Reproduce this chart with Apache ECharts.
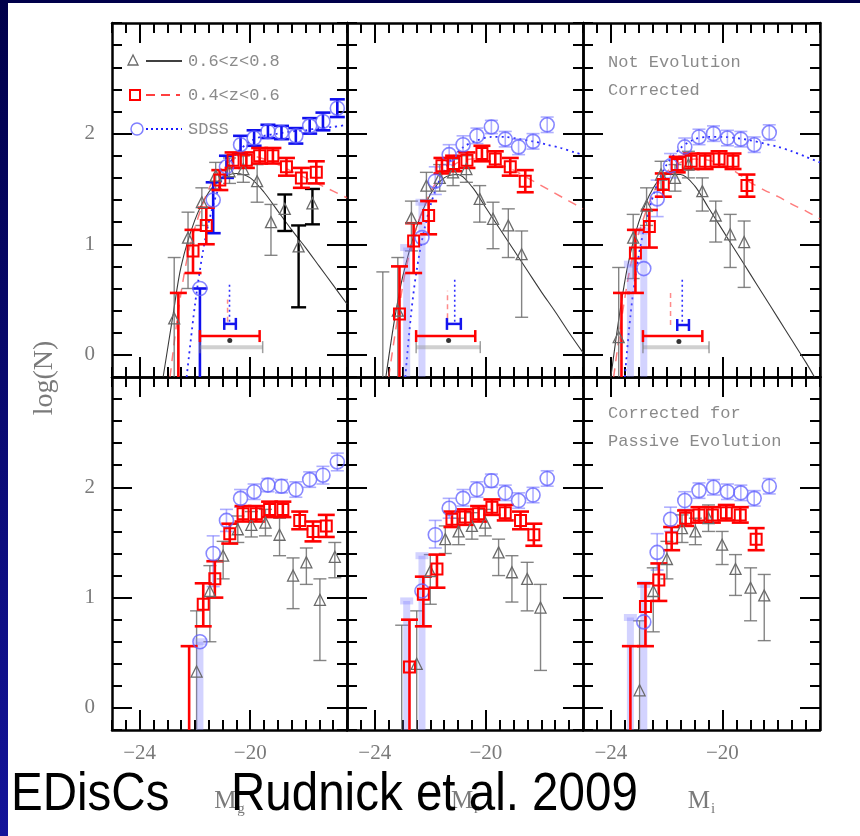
<!DOCTYPE html>
<html><head><meta charset="utf-8">
<script src="https://cdn.jsdelivr.net/npm/echarts@6/dist/echarts.min.js"></script>
<style>html,body{margin:0;padding:0;background:#fff}#c{width:860px;height:836px}</style>
</head><body><div id="c"></div>
<script>
// ---------------- DATA ----------------
// axis ranges / ticks
const XMIN = -25, XMAX = -16.5, YMIN = -0.2, YMAX = 3;
const X_MAJOR = [-24, -20];
const Y_MAJOR = [0, 1, 2];

// Column 1 (M_g)
const BLK1_M_TOP = [-22.75, -22.25, -21.75, -21.25, -20.75, -20.25, -19.75, -19.25, -18.75, -18.25, -17.75];
const BLK1_M_BOT = [-21.94, -21.46, -20.98, -20.45, -19.96, -19.45, -18.94, -18.45, -17.97, -17.48, -16.94];
const BLK1_Y  = [0.33, 1.06, 1.38, 1.62, 1.66, 1.68, 1.57, 1.20, 1.32, 0.98, 1.37];
const BLK1_HI = [0.88, 1.29, 1.51, 1.74, 1.78, 1.80, 1.72, 1.36, 1.45, 1.17, 1.50];
const BLK1_LO = [null, 0.60, 1.17, 1.50, 1.55, 1.56, 1.38, 0.90, 1.12, 0.43, 1.18];
const RED1_M_TOP = [-22.60, -22.07, -21.59, -21.10, -20.62, -20.14, -19.66, -19.18, -18.69, -18.15, -17.61];
const RED1_M_BOT = [-22.21, -21.70, -21.28, -20.74, -20.26, -19.78, -19.30, -18.82, -18.21, -17.73, -17.25];
const RED1_Y  = [null, 0.94, 1.17, 1.58, 1.76, 1.76, 1.80, 1.80, 1.70, 1.60, 1.65];
const RED1_HI = [0.56, 1.13, 1.33, 1.67, 1.83, 1.83, 1.87, 1.87, 1.78, 1.69, 1.75];
const RED1_LO = [null, 0.74, 1.00, 1.49, 1.69, 1.69, 1.73, 1.73, 1.62, 1.51, 1.55];
const BLU1_M  = [-21.82, -21.34, -20.86, -20.35, -19.86, -19.36, -18.87, -18.35, -17.85, -17.37, -16.85];
const BLU1_Y  = [0.60, 1.40, 1.70, 1.90, 1.96, 2.02, 2.01, 1.98, 2.07, 2.11, 2.23];
const BLU1_HI = [0.60, 1.56, 1.80, 1.98, 2.03, 2.08, 2.07, 2.05, 2.14, 2.19, 2.31];
const BLU1_LO = [null, 1.10, 1.60, 1.82, 1.89, 1.96, 1.95, 1.91, 2.00, 2.03, 2.15];

// Column 2 (M_r)
const BLK2_M_TOP = [-23.71, -23.17, -22.68, -22.14, -21.66, -21.18, -20.70, -20.22, -19.74, -19.19, -18.71];
const BLK2_M_BOT = [-23.03, -22.49, -22.00, -21.46, -20.98, -20.50, -20.02, -19.54, -19.06, -18.51, -18.03];
const BLK2_Y  = [null, 0.40, 1.24, 1.53, 1.60, 1.65, 1.68, 1.41, 1.23, 1.17, 0.91];
const BLK2_HI = [0.75, 0.88, 1.39, 1.65, 1.72, 1.77, 1.80, 1.53, 1.38, 1.32, 1.12];
const BLK2_LO = [null, null, 0.94, 1.40, 1.48, 1.53, 1.56, 1.20, 0.96, 0.88, 0.34];
const RED2_M_TOP = [-23.11, -22.60, -22.06, -21.58, -21.16, -20.68, -20.14, -19.66, -19.12, -18.58];
const RED2_M_BOT = [-22.75, -22.25, -21.76, -21.22, -20.74, -20.26, -19.78, -19.30, -18.75, -18.27];
const RED2_Y  = [0.37, 1.03, 1.26, 1.71, 1.73, 1.76, 1.82, 1.77, 1.70, 1.57];
const RED2_HI = [0.80, 1.19, 1.39, 1.78, 1.80, 1.83, 1.89, 1.84, 1.78, 1.67];
const RED2_LO = [null, 0.74, 1.09, 1.64, 1.66, 1.69, 1.75, 1.70, 1.62, 1.47];
const BLU2_M  = [-22.85, -22.30, -21.82, -21.32, -20.82, -20.32, -19.80, -19.30, -18.82, -18.30, -17.79];
const BLU2_Y  = [null, 1.06, 1.57, 1.81, 1.90, 1.98, 2.06, 1.95, 1.88, 1.93, 2.08];
const BLU2_HI = [0.97, 1.38, 1.70, 1.90, 1.98, 2.05, 2.12, 2.02, 1.95, 2.00, 2.15];
const BLU2_LO = [null, null, 1.45, 1.72, 1.83, 1.91, 2.00, 1.88, 1.81, 1.86, 2.01];

// Column 3 (M_i)
const BLK3_M_TOP = [-23.72, -23.20, -22.72, -22.20, -21.70, -21.22, -20.72, -20.24, -19.72, -19.22];
const BLK3_M_BOT = [-22.97, -22.48, -21.99, -21.45, -20.97, -20.50, -20.01, -19.53, -18.99, -18.50];
const BLK3_Y  = [0.16, 1.06, 1.35, 1.63, 1.60, 1.72, 1.48, 1.26, 1.09, 1.02];
const BLK3_HI = [0.79, 1.27, 1.51, 1.75, 1.72, 1.84, 1.60, 1.39, 1.27, 1.21];
const BLK3_LO = [null, 0.69, 1.17, 1.50, 1.48, 1.60, 1.30, 1.02, 0.79, 0.61];
const RED3_M_TOP = [-23.62, -23.12, -22.62, -22.12, -21.62, -21.12, -20.62, -20.12, -19.62, -19.12];
const RED3_M_BOT = [-23.30, -22.76, -22.28, -21.82, -21.32, -20.84, -20.36, -19.86, -19.36, -18.79];
const RED3_Y  = [null, 0.92, 1.16, 1.54, 1.72, 1.75, 1.75, 1.77, 1.75, 1.53];
const RED3_HI = [0.56, 1.13, 1.31, 1.64, 1.79, 1.82, 1.82, 1.84, 1.82, 1.63];
const RED3_LO = [null, 0.56, 0.97, 1.43, 1.65, 1.68, 1.68, 1.70, 1.68, 1.43];
const BLU3_M  = [-23.30, -22.82, -22.34, -21.86, -21.35, -20.84, -20.32, -19.82, -19.34, -18.86, -18.32];
const BLU3_Y  = [null, 0.78, 1.41, 1.71, 1.88, 1.97, 2.00, 1.96, 1.95, 1.90, 2.01];
const BLU3_HI = [0.82, 1.12, 1.58, 1.82, 1.96, 2.04, 2.07, 2.03, 2.02, 1.97, 2.08];
const BLU3_LO = [null, null, 1.25, 1.60, 1.80, 1.90, 1.93, 1.89, 1.88, 1.83, 1.94];

// Fitted curves (top row only)
const FIT1_BLK_M = [-23.15, -22.8, -22.5, -22.0, -21.5, -21.0, -20.5, -20.0, -19.5, -19.0, -18.5, -18.0, -17.5, -17.0, -16.5];
const FIT1_BLK_Y = [-0.2, 0.35, 0.8, 1.22, 1.47, 1.6, 1.64, 1.6, 1.47, 1.3, 1.13, 0.97, 0.8, 0.63, 0.46];
const FIT1_RED_M = [-22.9, -22.6, -22.3, -22.0, -21.5, -21.0, -20.5, -20.0, -19.5, -19.0, -18.5, -18.0, -17.5, -17.0, -16.5];
const FIT1_RED_Y = [-0.2, 0.4, 0.85, 1.15, 1.5, 1.7, 1.78, 1.8, 1.77, 1.72, 1.66, 1.6, 1.54, 1.48, 1.42];
const FIT1_BLU_M = [-22.3, -22.0, -21.7, -21.4, -21.0, -20.5, -20.0, -19.5, -19.0, -18.5, -18.0, -17.5, -17.0, -16.5];
const FIT1_BLU_Y = [-0.2, 0.45, 0.95, 1.3, 1.6, 1.82, 1.93, 1.98, 2.0, 2.02, 2.03, 2.05, 2.06, 2.08];
const FIT2_BLK_M = [-23.6, -23.3, -23.0, -22.5, -22.0, -21.5, -21.0, -20.5, -20.0, -19.5, -19.0, -18.5, -18.0, -17.5, -17.0, -16.5];
const FIT2_BLK_Y = [-0.2, 0.3, 0.7, 1.15, 1.45, 1.6, 1.63, 1.52, 1.33, 1.14, 0.95, 0.76, 0.57, 0.39, 0.2, 0.02];
const FIT2_RED_M = [-23.5, -23.2, -22.9, -22.5, -22.0, -21.5, -21.0, -20.5, -20.0, -19.5, -19.0, -18.5, -18.0, -17.5, -17.0, -16.5];
const FIT2_RED_Y = [-0.2, 0.3, 0.75, 1.15, 1.47, 1.65, 1.74, 1.77, 1.76, 1.72, 1.67, 1.6, 1.53, 1.46, 1.39, 1.32];
const FIT2_BLU_M = [-22.9, -22.7, -22.5, -22.2, -21.8, -21.3, -20.8, -20.3, -19.8, -19.3, -18.8, -18.3, -17.8, -17.3, -16.8, -16.5];
const FIT2_BLU_Y = [-0.2, 0.35, 0.75, 1.15, 1.5, 1.75, 1.88, 1.94, 1.97, 1.97, 1.95, 1.93, 1.9, 1.87, 1.83, 1.81];
const FIT3_BLK_M = [-24.0, -23.7, -23.4, -23.0, -22.5, -22.0, -21.5, -21.0, -20.5, -20.0, -19.5, -19.0, -18.5, -18.0, -17.5, -17.0, -16.7];
const FIT3_BLK_Y = [-0.2, 0.35, 0.8, 1.2, 1.5, 1.63, 1.63, 1.53, 1.33, 1.13, 0.93, 0.73, 0.53, 0.33, 0.13, -0.07, -0.2];
const FIT3_RED_M = [-23.9, -23.6, -23.3, -23.0, -22.5, -22.0, -21.5, -21.0, -20.5, -20.0, -19.5, -19.0, -18.5, -18.0, -17.5, -17.0, -16.5];
const FIT3_RED_Y = [-0.2, 0.35, 0.8, 1.1, 1.45, 1.65, 1.74, 1.77, 1.76, 1.72, 1.65, 1.56, 1.49, 1.43, 1.36, 1.3, 1.23];
const FIT3_BLU_M = [-23.5, -23.3, -23.1, -22.8, -22.4, -22.0, -21.5, -21.0, -20.5, -20.0, -19.5, -19.0, -18.5, -18.0, -17.5, -17.0, -16.5];
const FIT3_BLU_Y = [-0.2, 0.35, 0.75, 1.15, 1.5, 1.72, 1.87, 1.95, 1.97, 1.97, 1.96, 1.94, 1.91, 1.88, 1.84, 1.79, 1.74];

// Systematic-offset indicators in the top row: [xLeft, y, xRight] / [x, y1, y2] / [x, y]
const SYS_RED_BAR  = [[-21.82, 0.17, -19.66], [-22.51, 0.17, -20.38], [-22.85, 0.17, -20.72]];
const SYS_GRAY_BAR = [[-21.82, 0.07, -19.55], [-22.51, 0.07, -20.20], [-22.85, 0.07, -20.48]];
const SYS_BLUE_BAR = [[-20.94, 0.28, -20.52], [-21.40, 0.28, -20.90], [-21.62, 0.27, -21.20]];
const SYS_BLUE_VERT = [[-20.75, 0.30, 0.66], [-21.12, 0.30, 0.68], [-21.44, 0.30, 0.68]];
const SYS_RED_VERT  = [[-20.82, 0.30, 0.50], [-21.38, 0.33, 0.58], [-21.86, 0.27, 0.58]];
const SYS_DOT = [[-20.74, 0.13], [-21.34, 0.13], [-21.56, 0.12]];

const AXIS_NAMES = ['g', 'r', 'i'];
const LEGEND_LABELS = ['0.6<z<0.8', '0.4<z<0.6', 'SDSS'];

// ---------------- LAYOUT / STYLE ----------------
const GRID_LEFT = [112, 347, 583], GRID_W = [235, 236, 237];
const GRID_TOP = [23, 377], GRID_H = [354, 353];
const SERIF = '"Liberation Serif", "DejaVu Serif", serif';
const MONO = '"Liberation Mono", "DejaVu Sans Mono", monospace';
const LABEL_COLOR = '#7a7a7a';

const COLS = [
  {blkTop: BLK1_M_TOP, blkBot: BLK1_M_BOT, blkY: BLK1_Y, blkHi: BLK1_HI, blkLo: BLK1_LO,
   redTop: RED1_M_TOP, redBot: RED1_M_BOT, redY: RED1_Y, redHi: RED1_HI, redLo: RED1_LO,
   bluM: BLU1_M, bluY: BLU1_Y, bluHi: BLU1_HI, bluLo: BLU1_LO,
   fit: [[FIT1_BLK_M, FIT1_BLK_Y], [FIT1_RED_M, FIT1_RED_Y], [FIT1_BLU_M, FIT1_BLU_Y]]},
  {blkTop: BLK2_M_TOP, blkBot: BLK2_M_BOT, blkY: BLK2_Y, blkHi: BLK2_HI, blkLo: BLK2_LO,
   redTop: RED2_M_TOP, redBot: RED2_M_BOT, redY: RED2_Y, redHi: RED2_HI, redLo: RED2_LO,
   bluM: BLU2_M, bluY: BLU2_Y, bluHi: BLU2_HI, bluLo: BLU2_LO,
   fit: [[FIT2_BLK_M, FIT2_BLK_Y], [FIT2_RED_M, FIT2_RED_Y], [FIT2_BLU_M, FIT2_BLU_Y]]},
  {blkTop: BLK3_M_TOP, blkBot: BLK3_M_BOT, blkY: BLK3_Y, blkHi: BLK3_HI, blkLo: BLK3_LO,
   redTop: RED3_M_TOP, redBot: RED3_M_BOT, redY: RED3_Y, redHi: RED3_HI, redLo: RED3_LO,
   bluM: BLU3_M, bluY: BLU3_Y, bluHi: BLU3_HI, bluLo: BLU3_LO,
   fit: [[FIT3_BLK_M, FIT3_BLK_Y], [FIT3_RED_M, FIT3_RED_Y], [FIT3_BLU_M, FIT3_BLU_Y]]}
];

const grids = [], xAxes = [], yAxes = [], series = [];
const fmt = v => (v < 0 ? '\u2212' : '') + Math.abs(v);

function lineEl(x1, y1, x2, y2, stroke, w, dash) {
  return {type: 'line', shape: {x1, y1, x2, y2}, style: {stroke, lineWidth: w, fill: null, lineDash: dash || null}};
}

function errSeries(gi, xs, lo, hi, styleFn) {
  const data = xs.map((x, i) => [x, lo[i] == null ? YMIN : lo[i], hi[i]]);
  return {
    type: 'custom', xAxisIndex: 4 * gi, yAxisIndex: 4 * gi, z: 3, silent: true, data,
    renderItem: (params, api) => {
      const i = params.dataIndex, s = styleFn(i);
      const x = api.value(0), a = api.coord([x, api.value(1)]), b = api.coord([x, api.value(2)]);
      const h = s.cap / 2;
      const ch = [lineEl(a[0], a[1], b[0], b[1], s.color, s.width),
                  lineEl(b[0] - h, b[1], b[0] + h, b[1], s.color, s.width)];
      if (lo[i] != null) ch.push(lineEl(a[0] - h, a[1], a[0] + h, a[1], s.color, s.width));
      return {type: 'group', children: ch};
    }
  };
}

function markerSeries(gi, xs, ys, symbol, size, color, bw) {
  const data = xs.map((x, i) => [x, ys[i]]).filter(d => d[1] != null);
  return {type: 'scatter', xAxisIndex: 4 * gi, yAxisIndex: 4 * gi, z: 4, silent: true,
    symbol, symbolSize: size, data,
    itemStyle: {color: 'rgba(255,255,255,0)', borderColor: color, borderWidth: bw, opacity: 1}};
}

function fitSeries(gi, xs, ys, color, width, type) {
  return {type: 'line', xAxisIndex: 4 * gi, yAxisIndex: 4 * gi, z: 2, silent: true,
    showSymbol: false, symbol: 'none', smooth: 0.3, clip: true,
    lineStyle: {color, width, type}, data: xs.map((x, i) => [x, ys[i]])};
}

function hbarSeries(gi, item, color, width, capColor, capW) {
  return {type: 'custom', xAxisIndex: 4 * gi, yAxisIndex: 4 * gi, z: 3, silent: true, data: [item],
    renderItem: (p, api) => {
      const a = api.coord([api.value(0), api.value(1)]), b = api.coord([api.value(2), api.value(1)]);
      return {type: 'group', children: [
        lineEl(a[0], a[1], b[0], b[1], color, width),
        lineEl(a[0], a[1] - 6, a[0], a[1] + 6, capColor, capW),
        lineEl(b[0], b[1] - 6, b[0], b[1] + 6, capColor, capW)]};
    }};
}

function vsegSeries(gi, item, color, width, dash) {
  return {type: 'custom', xAxisIndex: 4 * gi, yAxisIndex: 4 * gi, z: 3, silent: true, data: [item],
    renderItem: (p, api) => {
      const a = api.coord([api.value(0), api.value(1)]), b = api.coord([api.value(0), api.value(2)]);
      return lineEl(a[0], a[1], b[0], b[1], color, width, dash);
    }};
}

function addPanel(row, col) {
  const gi = row * 3 + col, C = COLS[col];
  grids.push({left: GRID_LEFT[col], top: GRID_TOP[row], width: GRID_W[col], height: GRID_H[row],
              containLabel: false, outerBoundsMode: 'none'});
  const axLine = {show: true, onZero: false, lineStyle: {color: '#000', width: 2.5}};
  const noLine = {show: false, onZero: false};
  const minorT = {show: true, inside: true, length: 10, lineStyle: {color: '#000', width: 2}};
  const majorX = {show: true, inside: true, length: 20, lineStyle: {color: '#000', width: 2}, customValues: X_MAJOR};
  const majorY = {show: true, inside: true, length: 20, lineStyle: {color: '#000', width: 2}, customValues: Y_MAJOR};
  const xb = {gridIndex: gi, type: 'value', min: XMIN, max: XMAX, interval: 0.5, splitLine: {show: false}, axisLabel: {show: false}};
  const yb = {gridIndex: gi, type: 'value', min: YMIN, max: YMAX, interval: 0.2, splitLine: {show: false}, axisLabel: {show: false}};
  const xMain = Object.assign({}, xb, {position: 'bottom', axisLine: axLine, axisTick: minorT});
  if (row === 1) {
    xMain.axisLabel = {show: true, customValues: X_MAJOR, formatter: fmt, color: LABEL_COLOR,
                       fontFamily: SERIF, fontSize: 21, margin: 13};
    xMain.name = '{m|M}{s|' + AXIS_NAMES[col] + '}';
    xMain.nameLocation = 'middle';
    xMain.nameGap = 56;
    xMain.nameTextStyle = {rich: {
      m: {fontSize: 25, fontFamily: SERIF, color: LABEL_COLOR},
      s: {fontSize: 15, fontFamily: SERIF, color: LABEL_COLOR, padding: [16, 0, 0, 1]}}};
  }
  xAxes.push(xMain,
    Object.assign({}, xb, {position: 'bottom', axisLine: noLine, axisTick: majorX}),
    Object.assign({}, xb, {position: 'top', axisLine: axLine, axisTick: minorT}),
    Object.assign({}, xb, {position: 'top', axisLine: noLine, axisTick: majorX}));
  const yMain = Object.assign({}, yb, {position: 'left', axisLine: axLine, axisTick: minorT});
  if (col === 0) {
    yMain.axisLabel = {show: true, customValues: Y_MAJOR, color: LABEL_COLOR, fontFamily: SERIF, fontSize: 21, margin: 17};
  }
  yAxes.push(yMain,
    Object.assign({}, yb, {position: 'left', axisLine: noLine, axisTick: majorY}),
    Object.assign({}, yb, {position: 'right', axisLine: axLine, axisTick: minorT}),
    Object.assign({}, yb, {position: 'right', axisLine: noLine, axisTick: majorY}));

  const blkM = row === 0 ? C.blkTop : C.blkBot;
  const redM = row === 0 ? C.redTop : C.redBot;

  if (row === 0) {
    series.push(fitSeries(gi, C.fit[0][0], C.fit[0][1], '#3a3a3a', 1.1, 'solid'));
    series.push(fitSeries(gi, C.fit[1][0], C.fit[1][1], 'rgba(255,80,80,0.75)', 1.5, [9, 7]));
    series.push(fitSeries(gi, C.fit[2][0], C.fit[2][1], '#2a2aff', 1.8, [2, 4]));
  }
  // error bars
  const darkBlack = (row === 0 && col === 0) ? [8, 9, 10] : [];
  series.push(errSeries(gi, blkM, C.blkLo, C.blkHi, i =>
    darkBlack.indexOf(i) >= 0 ? {color: '#000', width: 2.4, cap: 15} : {color: 'rgba(110,110,110,0.85)', width: 1.4, cap: 13}));
  const darkBlue = (row === 0 && col === 0);
  series.push(errSeries(gi, C.bluM, C.bluLo, C.bluHi, i =>
    darkBlue ? {color: '#1010ee', width: 2.6, cap: 15}
             : (C.bluLo[i] == null ? {color: 'rgba(130,130,255,0.35)', width: 7, cap: 13}
                                    : {color: 'rgba(110,110,255,0.55)', width: 1.6, cap: 13})));
  series.push(errSeries(gi, redM, C.redLo, C.redHi, () => ({color: '#ff0000', width: 2.6, cap: 17})));
  // markers
  series.push(markerSeries(gi, blkM, C.blkY, 'triangle', 11, '#6a6a6a', 1.3));
  series.push(markerSeries(gi, C.bluM, C.bluY, 'circle', 14, 'rgba(95,95,255,0.75)', 1.6));
  series.push(markerSeries(gi, redM, C.redY, 'rect', 11, '#ff0000', 2));

  if (row === 0) {
    series.push(hbarSeries(gi, SYS_GRAY_BAR[col], 'rgba(150,150,150,0.45)', 4, 'rgba(120,120,120,0.7)', 1.5));
    series.push(hbarSeries(gi, SYS_RED_BAR[col], '#ff0000', 2.5, '#ff0000', 2.5));
    series.push(hbarSeries(gi, SYS_BLUE_BAR[col], '#1515ee', 2.5, '#1515ee', 2.5));
    series.push(vsegSeries(gi, SYS_BLUE_VERT[col], '#3030ff', 1.6, [2, 3]));
    series.push(vsegSeries(gi, SYS_RED_VERT[col], 'rgba(255,90,90,0.7)', 1.5, [5, 4]));
    series.push({type: 'scatter', xAxisIndex: 4 * gi, yAxisIndex: 4 * gi, z: 4, silent: true,
      symbol: 'circle', symbolSize: 5, data: [SYS_DOT[col]], itemStyle: {color: '#000'}});
  }
}

for (let r = 0; r < 2; r++) for (let c = 0; c < 3; c++) addPanel(r, c);

const TXT = {fill: '#8a8a8a', fontFamily: MONO, fontSize: 17, verticalAlign: 'middle', align: 'left'};
const CAPTION = {fill: '#000', fontFamily: '"Liberation Sans", Arial, sans-serif', fontSize: 54, verticalAlign: 'middle', align: 'left'};
const graphic = [
  {type: 'rect', left: 0, top: 0, z: 0, shape: {x: 0, y: 0, width: 8, height: 836},
   style: {fill: new echarts.graphic.LinearGradient(0, 0, 0, 1, [{offset: 0, color: '#00004a'}, {offset: 1, color: '#14149a'}])}},
  {type: 'rect', left: 0, top: 0, z: 0, shape: {x: 0, y: 0, width: 860, height: 3}, style: {fill: '#00004a'}},
  // legend (panel 1)
  {type: 'polygon', z: 10, shape: {points: [[133, 55], [128, 65], [138, 65]]}, style: {fill: null, stroke: '#6a6a6a', lineWidth: 1.3}},
  {type: 'line', z: 10, shape: {x1: 146, y1: 61, x2: 182, y2: 61}, style: {stroke: '#000', lineWidth: 1.6}},
  {type: 'text', z: 10, x: 188, y: 61, style: Object.assign({text: LEGEND_LABELS[0]}, TXT)},
  {type: 'rect', z: 10, shape: {x: 130, y: 90, width: 10, height: 10}, style: {fill: null, stroke: '#ff0000', lineWidth: 2}},
  {type: 'line', z: 10, shape: {x1: 146, y1: 95, x2: 180, y2: 95}, style: {stroke: '#ff0000', lineWidth: 1.6, lineDash: [9, 6]}},
  {type: 'text', z: 10, x: 188, y: 95, style: Object.assign({text: LEGEND_LABELS[1]}, TXT)},
  {type: 'circle', z: 10, shape: {cx: 137, cy: 129, r: 6}, style: {fill: null, stroke: 'rgba(95,95,255,0.8)', lineWidth: 1.5}},
  {type: 'line', z: 10, shape: {x1: 146, y1: 129, x2: 182, y2: 129}, style: {stroke: '#1a1aff', lineWidth: 1.8, lineDash: [2, 3]}},
  {type: 'text', z: 10, x: 188, y: 129, style: Object.assign({text: LEGEND_LABELS[2]}, TXT)},
  // panel annotations
  {type: 'text', z: 10, x: 608, y: 62, style: Object.assign({text: 'Not Evolution'}, TXT)},
  {type: 'text', z: 10, x: 608, y: 90, style: Object.assign({text: 'Corrected'}, TXT)},
  {type: 'text', z: 10, x: 608, y: 413, style: Object.assign({text: 'Corrected for'}, TXT)},
  {type: 'text', z: 10, x: 608, y: 441, style: Object.assign({text: 'Passive Evolution'}, TXT)},
  // y axis title
  {type: 'text', z: 10, x: 45, y: 378, rotation: Math.PI / 2,
   style: {text: 'log(N)', fill: LABEL_COLOR, fontFamily: SERIF, fontSize: 28, align: 'center', verticalAlign: 'middle'}},
  // slide caption overlay
  {type: 'text', z: 20, x: 11, y: 795, scaleX: 0.88, style: Object.assign({text: 'EDisCs'}, CAPTION)},
  {type: 'text', z: 20, x: 231, y: 795, scaleX: 0.88, style: Object.assign({text: 'Rudnick et al. 2009'}, CAPTION)}
];

const chart = echarts.init(document.getElementById('c'), null, {renderer: 'canvas', width: 860, height: 836});
chart.setOption({
  backgroundColor: '#ffffff',
  animation: false,
  grid: grids, xAxis: xAxes, yAxis: yAxes, series, graphic
});
</script></body></html>
